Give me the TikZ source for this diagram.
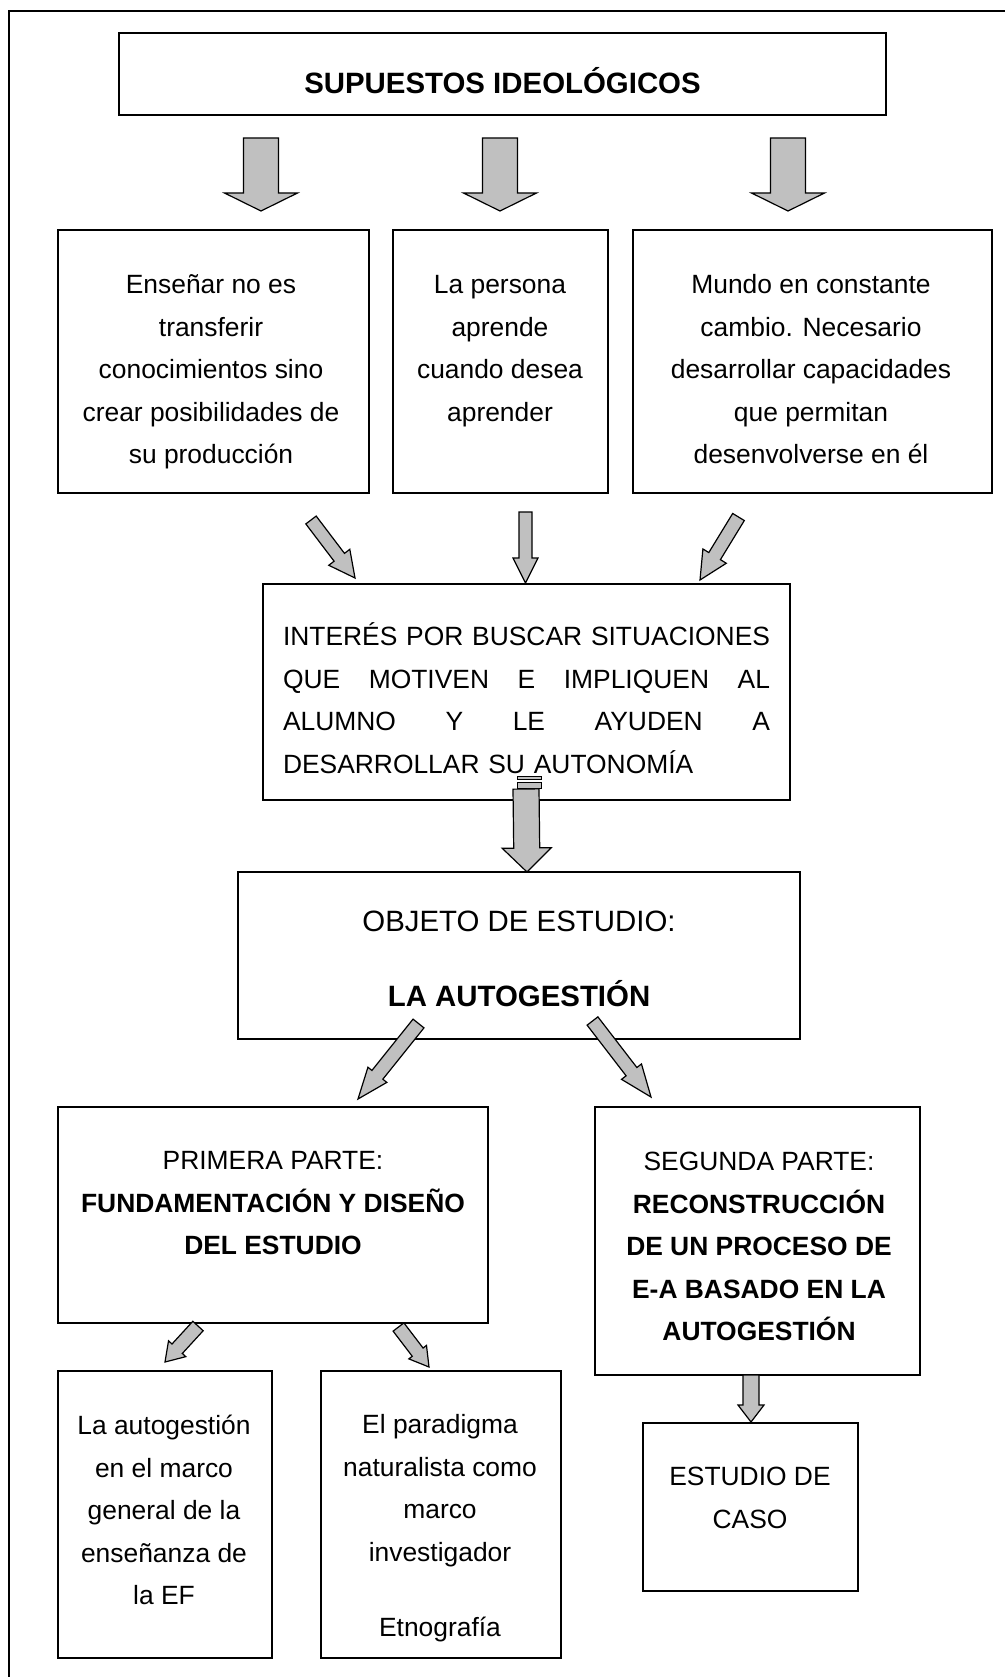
\documentclass[tikz,border=0pt]{standalone}
\usepackage{fontspec}
\setmainfont{Liberation Sans}
\usetikzlibrary{calc}
\definecolor{gris}{RGB}{192,192,192}
\newcommand{\cuerpo}{\fontsize{26.4}{42.5}\selectfont}
\newcommand{\grande}{\fontsize{29.4}{42.5}\selectfont}
\newcommand{\linea}[1]{\leavevmode\hbox to 487pt{#1}}
% block arrow: tail, tip, half shaft, half head, head length
\newcommand{\flechagruesa}[5]{%
  \coordinate (fh) at ($(#2)!#5!(#1)$);
  \filldraw[bloque] ($(#1)!#3!90:(#2)$) -- ($(fh)!#3!90:(#2)$) -- ($(fh)!#4!90:(#2)$) -- (#2)
    -- ($(fh)!#4!-90:(#2)$) -- ($(fh)!#3!-90:(#2)$) -- ($(#1)!#3!-90:(#2)$) -- cycle;}

\begin{document}
\begin{tikzpicture}[
      x=1pt, y=-1pt,
      caja/.style={draw, line width=1.6pt, inner sep=0pt},
      texto/.style={align=center, inner sep=0pt, font=\cuerpo},
      bloque/.style={fill=gris, draw=black, line width=1.2pt, line join=miter},
      marco/.style={line width=1.4pt},
    ]
    \useasboundingbox (0,0) rectangle (1005,1677);
    % Outer frame (only left and top edges show).
    \draw[marco] (9,1677) |- (1005,11);

    % Draw the boxes.
    \node[caja, minimum width=767, minimum height=82] (b0) at (502.5,74) {};
    \node[font=\grande\bfseries, inner sep=0pt] (t0) at (502.5,85) {\strut SUPUESTOS IDEOLÓGICOS};

    \node[caja, minimum width=311, minimum height=263] (b1) at (213.5,361.5) {};
    \node[caja, minimum width=215, minimum height=263] (b2) at (500.5,361.5) {};
    \node[caja, minimum width=359, minimum height=263] (b3) at (812.5,361.5) {};
    \node[texto] (t1) at (211,370) {\strut Enseñar no es\\ transferir\\ conocimientos sino\\ crear posibilidades de\\ su producción\strut};
    \node[texto] (t2) at (500,349) {\strut La persona\\ aprende\\ cuando desea\\ aprender\strut};
    \node[texto] (t3) at (811,370) {\strut Mundo en constante\\ cambio. Necesario\\ desarrollar capacidades\\ que permitan\\ desenvolverse en él\strut};

    \node[caja, minimum width=527, minimum height=216] (b4) at (526.5,692) {};
    \node[texto, align=left, text width=487pt] (t4) at (526.5,701) {\strut\linea{INTERÉS\hfill POR\hfill BUSCAR\hfill SITUACIONES}\\
      \linea{QUE\hfill MOTIVEN\hfill E\hfill IMPLIQUEN\hfill AL}\\ \linea{ALUMNO\hfill Y\hfill LE\hfill AYUDEN\hfill A}\\ DESARROLLAR SU AUTONOMÍA\strut};

    \node[caja, minimum width=562, minimum height=167] (b5) at (519,955.5) {};
    \node[texto, font=\grande] (t5) at (519,960.5) {\strut OBJETO DE ESTUDIO:\\[32.5pt] \textbf{LA AUTOGESTIÓN}\strut};

    \node[caja, minimum width=430, minimum height=216] (b6) at (273,1215) {};
    \node[texto] (t6) at (273,1203.5) {\strut PRIMERA PARTE:\\ \textbf{FUNDAMENTACIÓN Y DISEÑO}\\ \textbf{DEL ESTUDIO}\strut};
    \node[caja, minimum width=325, minimum height=268] (b7) at (757.5,1241) {};
    \node[texto] (t7) at (759,1247) {\strut SEGUNDA PARTE:\\ \textbf{RECONSTRUCCIÓN}\\ \textbf{DE UN PROCESO DE}\\
      \textbf{E-A BASADO EN LA}\\ \textbf{AUTOGESTIÓN}\strut};

    \node[caja, minimum width=214, minimum height=287] (b8) at (165,1514.5) {};
    \node[texto] (t8) at (164,1511) {\strut La autogestión\\ en el marco\\ general de la\\ enseñanza de\\ la EF\strut};
    \node[caja, minimum width=240, minimum height=287] (b9) at (441,1514.5) {};
    \node[texto] (t9) at (440,1526.5) {\strut El paradigma\\ naturalista como\\ marco\\ investigador\\[32.5pt] Etnografía\strut};
    \node[caja, minimum width=215, minimum height=168] (b10) at (750.5,1507) {};
    \node[texto] (t10) at (750,1498.5) {\strut ESTUDIO DE\\ CASO\strut};

    % Draw the block arrows.
    \coordinate (a1_t) at (261,138);   \coordinate (a1_b) at (261,211);
    \coordinate (a2_t) at (500,138);   \coordinate (a2_b) at (500,211);
    \coordinate (a3_t) at (788,138);   \coordinate (a3_b) at (788,211);
    \flechagruesa{a1_t}{a1_b}{17.5pt}{36.5pt}{18pt}
    \flechagruesa{a2_t}{a2_b}{17.5pt}{36.5pt}{18pt}
    \flechagruesa{a3_t}{a3_b}{17.5pt}{36.5pt}{18pt}

    \coordinate (a4_t) at (311,520);   \coordinate (a4_b) at (355,578);
    \coordinate (a5_t) at (525.5,512); \coordinate (a5_b) at (525.5,583);
    \coordinate (a6_t) at (738.5,517); \coordinate (a6_b) at (700,580);
    \flechagruesa{a4_t}{a4_b}{6.5pt}{13.2pt}{26pt}
    \flechagruesa{a5_t}{a5_b}{6.5pt}{12.5pt}{25pt}
    \flechagruesa{a6_t}{a6_b}{6.8pt}{13.7pt}{28pt}

    \filldraw[bloque, line width=0.9pt] (517,776) rectangle (541,779.5);
    \filldraw[bloque, line width=0.9pt] (517,782) rectangle (541,788);
    \coordinate (a7_t) at (526,789);   \coordinate (a7_b) at (527,872);
    \flechagruesa{a7_t}{a7_b}{13pt}{24.5pt}{24pt}

    \coordinate (a8_t) at (418.5,1023.5); \coordinate (a8_b) at (358,1099);
    \coordinate (a9_t) at (592.5,1021);   \coordinate (a9_b) at (651,1097);
    \flechagruesa{a8_t}{a8_b}{7pt}{12.1pt}{31pt}
    \flechagruesa{a9_t}{a9_b}{6.8pt}{12.6pt}{32pt}

    \coordinate (a10_t) at (198,1326);   \coordinate (a10_b) at (165,1362);
    \coordinate (a11_t) at (398.5,1327); \coordinate (a11_b) at (429,1367);
    \flechagruesa{a10_t}{a10_b}{7pt}{11.7pt}{18pt}
    \flechagruesa{a11_t}{a11_b}{6.8pt}{11.1pt}{18.7pt}

    \coordinate (a12_t) at (751,1375);   \coordinate (a12_b) at (751,1422);
    \flechagruesa{a12_t}{a12_b}{8pt}{13pt}{17pt}
\end{tikzpicture}
\end{document}
